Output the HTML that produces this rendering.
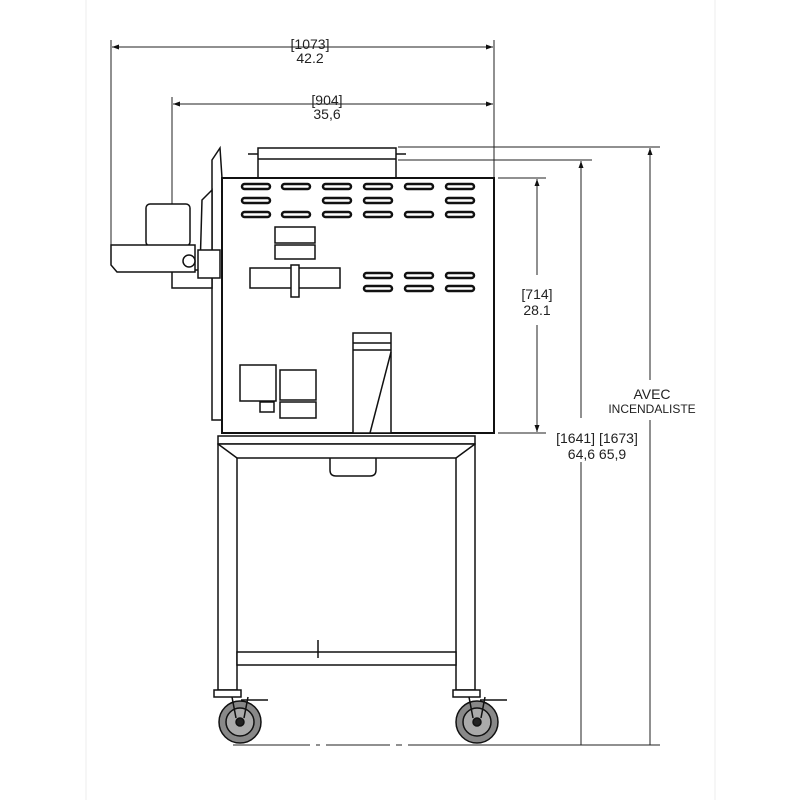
<!DOCTYPE html>
<html><head><style>body{margin:0;background:#fff}svg{display:block}text{font-family:"Liberation Sans",sans-serif;fill:#222}</style></head><body>
<svg width="800" height="800" viewBox="0 0 800 800" xmlns="http://www.w3.org/2000/svg">
<defs><marker id="a" markerWidth="8" markerHeight="8" refX="7" refY="4" orient="auto-start-reverse"><path d="M0,1.5 L7,4 L0,6.5z" fill="#111"/></marker></defs>
<line x1="86" y1="0" x2="86" y2="800" stroke="#eee"/><line x1="715" y1="0" x2="715" y2="800" stroke="#eee"/>
<g stroke="#222" stroke-width="1" fill="none">
<line x1="111" y1="40" x2="111" y2="248"/><line x1="494" y1="40" x2="494" y2="180"/>
<line x1="112" y1="47" x2="493" y2="47" marker-start="url(#a)" marker-end="url(#a)"/>
<line x1="172" y1="97" x2="172" y2="205"/>
<line x1="173" y1="104" x2="493" y2="104" marker-start="url(#a)" marker-end="url(#a)"/>
<line x1="398" y1="147" x2="660" y2="147"/><line x1="398" y1="160" x2="592" y2="160"/>
<line x1="498" y1="178" x2="546" y2="178"/><line x1="498" y1="433" x2="546" y2="433"/>
<line x1="537" y1="179" x2="537" y2="275" marker-start="url(#a)"/><line x1="537" y1="325" x2="537" y2="432" marker-end="url(#a)"/>
<line x1="581" y1="161" x2="581" y2="418" marker-start="url(#a)"/><line x1="581" y1="462" x2="581" y2="745"/>
<line x1="650" y1="148" x2="650" y2="380" marker-start="url(#a)"/><line x1="650" y1="420" x2="650" y2="745"/>
<line x1="233" y1="745" x2="310" y2="745"/><line x1="316" y1="745" x2="320" y2="745"/><line x1="326" y1="745" x2="390" y2="745"/><line x1="396" y1="745" x2="402" y2="745"/><line x1="408" y1="745" x2="660" y2="745"/>
</g>
<g font-size="14" text-anchor="middle">
<text x="310" y="49">[1073]</text><text x="310" y="63">42.2</text>
<text x="327" y="105">[904]</text><text x="327" y="119">35,6</text>
<text x="537" y="299">[714]</text><text x="537" y="315">28.1</text>
<text x="652" y="399">AVEC</text><text x="652" y="413" font-size="12">INCENDALISTE</text>
<text x="597" y="443">[1641] [1673]</text><text x="597" y="459">64,6 65,9</text>
</g>
<g stroke="#111" stroke-width="1.5" fill="#fff">
<rect x="258" y="148" width="138" height="30"/><line x1="258" y1="159" x2="396" y2="159"/>
<line x1="248" y1="154" x2="258" y2="154"/><line x1="396" y1="154" x2="406" y2="154"/>
<path d="M212,160 L220,148 L222,178 L222,420 L212,420 L212,190z"/>
<path d="M202,200 L212,190 L212,288 L172,288 L172,270 L200,270z"/>
<rect x="146" y="204" width="44" height="42" rx="4"/>
<path d="M111,245 L195,245 L195,272 L117,272 L111,265z"/>
<circle cx="189" cy="261" r="6"/><rect x="198" y="250" width="22" height="28"/>
<rect x="222" y="178" width="272" height="255" stroke-width="2"/>
<rect x="275" y="227" width="40" height="16"/><rect x="275" y="245" width="40" height="14"/>
<rect x="250" y="268" width="90" height="20"/><rect x="291" y="265" width="8" height="32"/>
<rect x="353" y="333" width="38" height="100"/><line x1="353" y1="343" x2="391" y2="343"/><line x1="353" y1="350" x2="391" y2="350"/><line x1="391" y1="352" x2="370" y2="433"/>
<rect x="240" y="365" width="36" height="36"/><rect x="280" y="370" width="36" height="30"/><rect x="280" y="402" width="36" height="16"/><rect x="260" y="402" width="14" height="10"/>
<rect x="218" y="436" width="257" height="8"/>
<path d="M218,444 L475,444 L475,690 L456,690 L456,458 L237,458 L237,690 L218,690z"/>
<path d="M218,444 L237,458 M475,444 L456,458" fill="none"/>
<rect x="237" y="652" width="219" height="13"/>
<path d="M330,458 L330,470 Q330,476 336,476 L370,476 Q376,476 376,470 L376,458" fill="none"/>
<path d="M318,640 L318,658" fill="none"/>
<rect x="214" y="690" width="27" height="7"/><rect x="453" y="690" width="27" height="7"/>
<path d="M241,700 L268,700 M480,700 L507,700" fill="none"/>
</g>
<g stroke="#111" stroke-width="1.5">
<g fill="#fff" stroke-width="2.5">
<rect x="242" y="184" width="28" height="5" rx="2.5"/><rect x="282" y="184" width="28" height="5" rx="2.5"/><rect x="323" y="184" width="28" height="5" rx="2.5"/><rect x="364" y="184" width="28" height="5" rx="2.5"/><rect x="405" y="184" width="28" height="5" rx="2.5"/><rect x="446" y="184" width="28" height="5" rx="2.5"/>
<rect x="242" y="198" width="28" height="5" rx="2.5"/><rect x="323" y="198" width="28" height="5" rx="2.5"/><rect x="364" y="198" width="28" height="5" rx="2.5"/><rect x="446" y="198" width="28" height="5" rx="2.5"/>
<rect x="242" y="212" width="28" height="5" rx="2.5"/><rect x="282" y="212" width="28" height="5" rx="2.5"/><rect x="323" y="212" width="28" height="5" rx="2.5"/><rect x="364" y="212" width="28" height="5" rx="2.5"/><rect x="405" y="212" width="28" height="5" rx="2.5"/><rect x="446" y="212" width="28" height="5" rx="2.5"/>
<rect x="364" y="273" width="28" height="5" rx="2.5"/><rect x="405" y="273" width="28" height="5" rx="2.5"/><rect x="446" y="273" width="28" height="5" rx="2.5"/>
<rect x="364" y="286" width="28" height="5" rx="2.5"/><rect x="405" y="286" width="28" height="5" rx="2.5"/><rect x="446" y="286" width="28" height="5" rx="2.5"/>
</g>
<circle cx="240" cy="722" r="21" fill="#888"/><circle cx="240" cy="722" r="14" fill="#aaa"/><circle cx="240" cy="722" r="4" fill="#222"/>
<circle cx="477" cy="722" r="21" fill="#888"/><circle cx="477" cy="722" r="14" fill="#aaa"/><circle cx="477" cy="722" r="4" fill="#222"/>
<path d="M232,697 L236,718 M248,697 L244,718 M469,697 L473,718 M485,697 L481,718" fill="none"/>
</g>
</svg>
</body></html>
